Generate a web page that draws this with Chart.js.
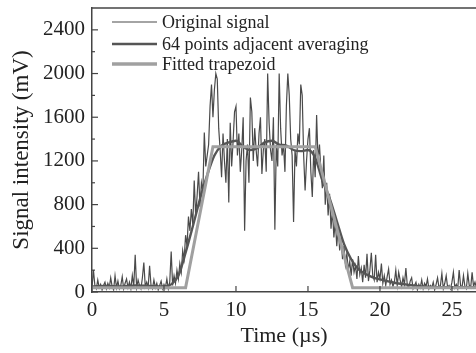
<!DOCTYPE html>
<html>
<head>
<meta charset="utf-8">
<script src="https://cdn.jsdelivr.net/npm/chart.js@4.4.1/dist/chart.umd.min.js"></script>
<style>
  html, body { margin: 0; padding: 0; background: #fff; }
  #wrap { width: 476px; height: 353px; }
</style>
</head>
<body>
<div id="wrap"><canvas id="pulseChart"></canvas></div>
<script>
// --- Data ---
const signalStep = 0.1; // us between raw samples
const signalValues = [
    40, 200, 60, 30, 110, 40, 70, 20, 60, 90,
    30, 80, 40, 130, 50, 20, 150, 40, 100, 30,
    60, 140, 30, 80, 120, 40, 90, 30, 150, 50,
    340, 40, 110, 60, 30, 130, 270, 50, 90, 40,
    240, 60, 30, 110, 40, 80, 20, 60, 100, 30,
    70, 40, 120, 30, 90, 370, 60, 150, 80, 200,
    120, 260, 180, 380, 300, 520, 420, 690, 560, 760,
    620, 1020, 700, 880, 1100, 780, 1000, 920, 1460, 1150,
    1250, 1350, 1700, 1900, 1600, 1850, 2000, 1950, 1500, 1300,
    1050, 1450, 1200, 1000, 1400, 820, 1550, 1150, 1380, 1650,
    1700, 1250, 1450, 1100, 1300, 1600, 560, 1200, 1350, 1000,
    1780, 1650, 1200, 1500, 1300, 1150, 1450, 1600, 1080, 1300,
    1400, 1100, 2000, 1550, 1300, 1200, 1600, 570, 1350, 1150,
    2000, 1500, 1250, 1350, 1100, 1700, 2000, 1800, 1400, 1250,
    640, 1300, 1150, 1450, 1350, 1900, 1800, 1250, 930, 1200,
    1400, 1500, 1100, 870, 1300, 1050, 1620, 1200, 1350, 1100,
    950, 1250, 800, 1000, 700, 900, 580, 750, 500, 650,
    420, 600, 380, 480, 300, 420, 250, 350, 200, 280,
    150, 300, 180, 240, 120, 330, 160, 220, 90, 250,
    130, 350, 100, 200, 360, 150, 110, 340, 90, 180,
    120, 260, 80, 150, 60, 140, 210, 70, 110, 50,
    90, 200, 60, 180, 110, 50, 130, 70, 220, 60,
    40, 100, 130, 30, 60, 90, 20, 70, 40, 110,
    30, 80, 50, 120, 30, 60, 40, 90, 20, 70,
    130, 40, 60, 170, 30, 80, 150, 40, 60, 30,
    90, 180, 40, 70, 30, 200, 60, 40, 150, 50,
    30, 170, 60, 40, 180, 50, 90, 40
];

const averageTimes = [0, 1, 2, 3, 4, 5, 5.5, 6, 6.5, 7, 7.5, 8, 8.5, 9, 9.5, 10, 10.5, 11, 11.5, 12,
    12.5, 13, 13.5, 14, 14.5, 15, 15.5, 16, 16.5, 17, 17.5, 18, 18.5, 19, 19.5, 20, 21, 22, 23, 24, 25, 26.7];
const averageValues = [50, 55, 50, 60, 55, 50, 70, 150, 360, 600, 850, 1070, 1250, 1340, 1370, 1385, 1330, 1300, 1320, 1370,
    1385, 1350, 1340, 1300, 1290, 1300, 1230, 1020, 860, 650, 440, 300, 210, 165, 135, 115, 85, 65, 50, 45, 45, 45];

const trapezoidTimes = [0, 6.5, 8.4, 15.5, 18.1, 26.7];
const trapezoidValues = [40, 40, 1330, 1330, 40, 40];

const xTicks = [0, 5, 10, 15, 20, 25];
const yTicks = [0, 400, 800, 1200, 1600, 2000, 2400];
const legendLabels = ['Original signal', '64 points adjacent averaging', 'Fitted trapezoid'];

const FONT = "'Liberation Serif', 'Times New Roman', serif";
const INK = '#222';

function pairs(xs, ys) {
    return ys.map((y, i) => ({ x: xs[i], y: y }));
}

const signalPoints = signalValues.map((v, i) => ({ x: +(i * signalStep).toFixed(2), y: v }));

// --- Frame, inward ticks and inset legend ---
const framePlugin = {
    id: 'frame',
    afterDraw(chart) {
        const { ctx, chartArea: a, scales } = chart;
        ctx.save();
        ctx.strokeStyle = '#444';
        ctx.lineWidth = 1.5;
        ctx.beginPath();
        ctx.moveTo(a.left, a.top);
        ctx.lineTo(a.right, a.top);
        ctx.stroke();

        ctx.lineWidth = 1.2;
        // y ticks (major + minor)
        yTicks.forEach(v => {
            const py = scales.y.getPixelForValue(v);
            ctx.beginPath(); ctx.moveTo(a.left, py); ctx.lineTo(a.left + 6, py); ctx.stroke();
            const pm = scales.y.getPixelForValue(v + 200);
            if (pm > a.top) {
                ctx.beginPath(); ctx.moveTo(a.left, pm); ctx.lineTo(a.left + 3, pm); ctx.stroke();
            }
        });
        // x ticks
        xTicks.forEach(v => {
            const px = scales.x.getPixelForValue(v);
            ctx.beginPath(); ctx.moveTo(px, a.bottom); ctx.lineTo(px, a.bottom - 6); ctx.stroke();
        });

        // legend
        const rows = [22, 44, 64];
        ctx.font = '18px ' + FONT;
        ctx.textBaseline = 'middle';
        ctx.fillStyle = INK;
        chart.data.datasets.forEach((ds, i) => {
            ctx.strokeStyle = ds.borderColor;
            ctx.lineWidth = ds.legendWidth;
            ctx.beginPath(); ctx.moveTo(112, rows[i]); ctx.lineTo(157, rows[i]); ctx.stroke();
            ctx.fillText(legendLabels[i], 162, rows[i] + 1);
        });
        ctx.restore();
    }
};

const ctx = document.getElementById('pulseChart').getContext('2d');
new Chart(ctx, {
    type: 'line',
    data: {
        datasets: [{
            label: legendLabels[0],
            data: signalPoints,
            borderColor: '#4a4a4a',
            borderWidth: 1.2,
            legendWidth: 1.2,
            pointRadius: 0,
            tension: 0,
            order: 2
        }, {
            label: legendLabels[1],
            data: pairs(averageTimes, averageValues),
            borderColor: '#555',
            borderWidth: 2.4,
            legendWidth: 2.6,
            pointRadius: 0,
            cubicInterpolationMode: 'monotone',
            order: 1
        }, {
            label: legendLabels[2],
            data: pairs(trapezoidTimes, trapezoidValues),
            borderColor: '#a0a0a0',
            borderWidth: 3,
            legendWidth: 3.5,
            pointRadius: 0,
            tension: 0,
            order: 0
        }]
    },
    options: {
        responsive: true,
        maintainAspectRatio: false,
        animation: false,
        layout: { padding: { top: 8, right: 0, left: 0, bottom: 0 } },
        plugins: {
            legend: { display: false },
            tooltip: { enabled: false }
        },
        scales: {
            x: {
                type: 'linear',
                min: 0,
                max: 26.67,
                afterBuildTicks: s => { s.ticks = xTicks.map(v => ({ value: v })); },
                afterFit: s => { s.height = 61; s.paddingRight = 0; },
                grid: { display: false, drawTicks: false },
                border: { display: true, color: '#444', width: 1.5 },
                ticks: { color: INK, font: { family: FONT, size: 21 }, padding: 6, maxRotation: 0,
                    callback: v => String(v) },
                title: { display: true, text: 'Time (\u00b5s)', color: INK, font: { family: FONT, size: 22 }, padding: { top: 0 } }
            },
            y: {
                type: 'linear',
                min: 0,
                max: 2600,
                afterBuildTicks: s => { s.ticks = yTicks.map(v => ({ value: v })); },
                afterFit: s => { s.width = 92; s.paddingTop = 0; s.paddingBottom = 0; },
                grid: { display: false, drawTicks: false },
                border: { display: true, color: '#444', width: 1.5 },
                ticks: { color: INK, font: { family: FONT, size: 21 }, padding: 7,
                    callback: v => String(v) },
                title: { display: true, text: 'Signal intensity (mV)', color: INK, font: { family: FONT, size: 23 }, padding: { top: 8, bottom: 0 } }
            }
        }
    },
    plugins: [framePlugin]
});
</script>
</body>
</html>
